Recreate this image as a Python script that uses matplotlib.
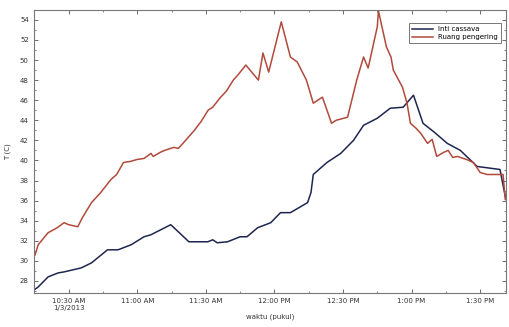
import pandas as pd
import matplotlib.pyplot as plt
import matplotlib.dates as mdates
from matplotlib.ticker import MultipleLocator

day = '2013-01-03 '

# Ruang pengering (drying room)
ruang_time = ['10:15:20', '10:16:40', '10:21', '10:25', '10:28', '10:30', '10:34', '10:36',
              '10:40', '10:44', '10:48:30', '10:51', '10:54', '10:57', '11:00', '11:03',
              '11:06', '11:07', '11:10', '11:12', '11:16', '11:18', '11:20', '11:25',
              '11:28', '11:31', '11:33', '11:36:30', '11:39', '11:42', '11:44', '11:47:30',
              '11:53', '11:55', '11:57:30', '12:03', '12:07', '12:10', '12:14', '12:17',
              '12:21', '12:25', '12:27', '12:32', '12:36', '12:39', '12:41', '12:45',
              '12:45:30', '12:49', '12:51', '12:52', '12:56', '12:58', '12:59:30', '13:02',
              '13:04', '13:07', '13:09', '13:11', '13:14', '13:16', '13:18', '13:20',
              '13:24', '13:27', '13:30', '13:33', '13:40', '13:41']
ruang_temp = [30.6, 31.6, 32.8, 33.3, 33.8, 33.6, 33.4, 34.3,
              35.8, 36.8, 38.1, 38.6, 39.8, 39.9, 40.1, 40.2,
              40.7, 40.4, 40.8, 41.0, 41.3, 41.2, 41.7, 43.0,
              43.9, 45.0, 45.3, 46.3, 46.9, 48.0, 48.5, 49.5,
              48.0, 50.7, 48.8, 53.8, 50.3, 49.8, 48.0, 45.7,
              46.3, 43.7, 44.0, 44.3, 48.0, 50.3, 49.2, 53.3,
              54.9, 51.3, 50.3, 49.0, 47.3, 45.7, 43.7, 43.2,
              42.7, 41.7, 42.1, 40.4, 40.8, 41.0, 40.3, 40.4,
              40.1, 39.8, 38.8, 38.6, 38.6, 36.1]

# Inti cassava (cassava core)
inti_time = ['10:14:54', '10:16:40', '10:21', '10:25:24', '10:28', '10:35:30', '10:40', '10:47',
             '10:51:36', '10:57:18', '11:03', '11:06', '11:14:40', '11:22:36', '11:30:54',
             '11:33', '11:35', '11:39:30', '11:45', '11:48', '11:52:40', '11:58:24',
             '12:02:40', '12:07', '12:14:30', '12:16', '12:17', '12:23', '12:29', '12:34:36',
             '12:39', '12:45', '12:50:40', '12:56:20', '13:00:50', '13:05', '13:10',
             '13:15:36', '13:21:20', '13:28:40', '13:38:40', '13:41']
inti_temp = [27.1, 27.4, 28.4, 28.8, 28.9, 29.3, 29.8, 31.1,
             31.1, 31.6, 32.4, 32.6, 33.6, 31.9, 31.9,
             32.1, 31.8, 31.9, 32.4, 32.4, 33.3, 33.8,
             34.8, 34.8, 35.8, 36.8, 38.6, 39.8, 40.7, 42.0,
             43.5, 44.2, 45.2, 45.3, 46.5, 43.7, 42.8,
             41.7, 41.0, 39.4, 39.1, 36.4]

tick_times = ['10:30', '11:00', '11:30', '12:00', '12:30', '13:00', '13:30']
tick_labels = ['10:30 AM\n1/3/2013', '11:00 AM', '11:30 AM', '12:00 PM',
               '12:30 PM', '1:00 PM', '1:30 PM']
y_ticks = [28, 30, 32, 34, 36, 38, 40, 42, 44, 46, 48, 50, 52, 54]


def to_dt(times):
    return pd.to_datetime([day + t for t in times], format='mixed')


fig = plt.figure(figsize=(5.09, 3.27), dpi=100)
ax = fig.add_axes([0.066, 0.104, 0.929, 0.866])

ax.plot(to_dt(inti_time), inti_temp, color='#1e2650', lw=1.1, label='Inti cassava')
ax.plot(to_dt(ruang_time), ruang_temp, color='#b24a3c', lw=1.1, label='Ruang pengering')

ax.set_xlim(pd.Timestamp(day + '10:14:40'), pd.Timestamp(day + '13:41:30'))
ax.set_ylim(26.8, 55.0)

ax.set_xticks(to_dt(tick_times))
ax.set_xticklabels(tick_labels)
ax.xaxis.set_minor_locator(mdates.MinuteLocator(byminute=[15, 45]))
ax.set_yticks(y_ticks)
ax.yaxis.set_minor_locator(MultipleLocator(1))

ax.tick_params(which='both', direction='in', top=True, right=True,
               labelsize=5, colors='#555555', labelcolor='#333333')
ax.tick_params(which='major', length=3, width=0.6)
ax.tick_params(which='minor', length=1.5, width=0.5)
for s in ax.spines.values():
    s.set_color('#777777')
    s.set_linewidth(0.8)

ax.set_xlabel('waktu (pukul)', fontsize=5, color='#333333', labelpad=2)
ax.set_ylabel('T (C)', fontsize=5, color='#333333', labelpad=6)

leg = ax.legend(loc='upper right', bbox_to_anchor=(0.995, 0.965), fontsize=5,
                frameon=True, fancybox=False, edgecolor='#555555',
                handlelength=3, borderpad=0.4, labelspacing=0.3)
leg.get_frame().set_linewidth(0.7)

fig.savefig('out.png', dpi=100)
